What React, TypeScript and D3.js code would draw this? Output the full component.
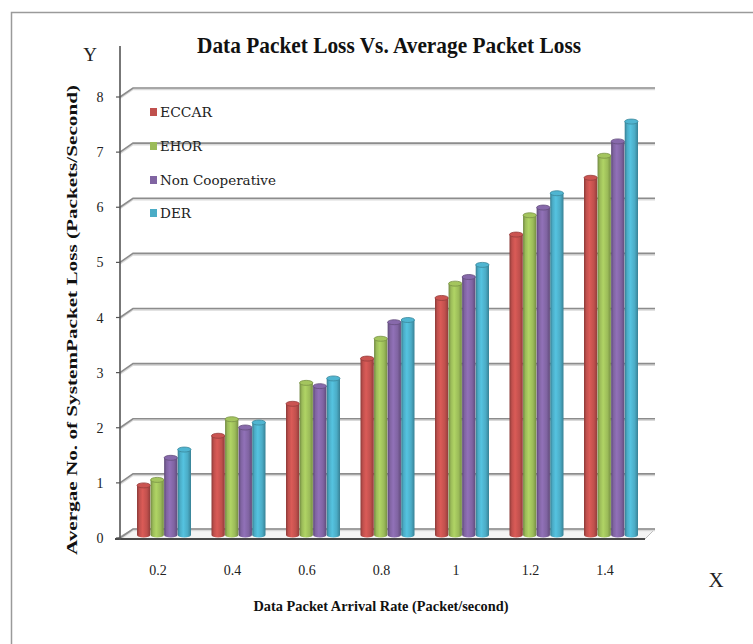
import React from "react";
import * as d3 from "d3";

// Arrival rates on the category axis
const rates = ["0.2", "0.4", "0.6", "0.8", "1", "1.2", "1.4"];
const seriesNames = ["ECCAR", "EHOR", "Non Cooperative", "DER"];
const seriesColors = ["#c0504d", "#9bbb59", "#8064a2", "#4bacc6"];

// Average packet loss per scheme
const eccar = [0.9, 1.8, 2.38, 3.2, 4.3, 5.45, 6.48];
const ehor = [1.0, 2.1, 2.76, 3.56, 4.56, 5.8, 6.88];
const nonCooperative = [1.4, 1.95, 2.7, 3.86, 4.68, 5.94, 7.14];
const der = [1.55, 2.04, 2.84, 3.9, 4.9, 6.2, 7.5];
const seriesValues = [eccar, ehor, nonCooperative, der];

const yTicks = [0, 1, 2, 3, 4, 5, 6, 7, 8];

const W = 753;
const H = 644;

// Plot frame geometry
const axisX = 120;
const depthX = 13;
const depthY = 9;
const wallRight = 655;
const barLift = 3;
const capRy = 2.5;

export default function App() {
  const y = d3.scaleLinear().domain([0, 8]).range([538, 97]);
  const xGroup = d3.scalePoint<string>().domain(rates).range([164, 611]);
  const xSeries = d3
    .scaleBand<string>()
    .domain(seriesNames)
    .range([-27, 27])
    .paddingInner(0.02);
  const bw = xSeries.bandwidth();

  return (
    <svg
      width={W}
      height={H}
      viewBox={`0 0 ${W} ${H}`}
      style={{ display: "block", position: "absolute", left: 0, top: 0 }}
    >
      <defs>
        {seriesColors.map((c, i) => {
          const base = d3.color(c)!;
          return (
            <linearGradient key={i} id={`cyl${i}`} x1="0" x2="1" y1="0" y2="0">
              <stop offset="0" stopColor={base.darker(0.9).formatHex()} />
              <stop offset="0.18" stopColor={base.formatHex()} />
              <stop offset="0.42" stopColor={base.brighter(0.35).formatHex()} />
              <stop offset="0.75" stopColor={base.formatHex()} />
              <stop offset="1" stopColor={base.darker(0.8).formatHex()} />
            </linearGradient>
          );
        })}
      </defs>

      {/* outer frame */}
      <path
        d={`M11.5,${H} L11.5,12.5 L${W},12.5`}
        fill="none"
        stroke="#9a9a9a"
        strokeWidth={1.5}
      />

      {/* title */}
      <text
        x={389}
        y={53}
        textAnchor="middle"
        fontFamily="'Liberation Serif', serif"
        fontWeight="bold"
        fontSize={23}
        textLength={384}
        lengthAdjust="spacingAndGlyphs"
        fill="#111"
      >
        Data Packet Loss Vs. Average  Packet Loss
      </text>

      {/* axis letters */}
      <text x={90} y={61} textAnchor="middle" fontFamily="'Liberation Serif', serif" fontSize={19} fill="#222">
        Y
      </text>
      <text x={716} y={587} textAnchor="middle" fontFamily="'Liberation Serif', serif" fontSize={21} fill="#222">
        X
      </text>

      {/* floor slab */}
      <path
        d={`M${axisX - 4},${y(0) + 1} L${axisX + depthX},${y(0) - depthY} L${wallRight},${y(0) - depthY} L${wallRight - depthX + 3},${y(0) + 1} Z`}
        fill="#f4f4f4"
        stroke="#bdbdbd"
        strokeWidth={1}
      />

      {/* back wall gridlines with diagonal side-wall segments */}
      {yTicks.map((t) => (
        <g key={t}>
          <path
            d={`M${axisX},${y(t) + 1.5} L${axisX + depthX},${y(t) - depthY + 1.5} L${wallRight},${y(t) - depthY + 1.5}`}
            fill="none"
            stroke="#d9d9d9"
            strokeWidth={1.5}
          />
          <path
            d={`M${axisX},${y(t)} L${axisX + depthX},${y(t) - depthY} L${wallRight},${y(t) - depthY}`}
            fill="none"
            stroke="#8c8c8c"
            strokeWidth={1.6}
          />
          <line x1={axisX - 4} x2={axisX} y1={y(t)} y2={y(t)} stroke="#555" strokeWidth={1.2} />
          <text
            x={100}
            y={y(t) + 5}
            textAnchor="middle"
            fontFamily="'Liberation Serif', serif"
            fontSize={14}
            fill="#222"
          >
            {t}
          </text>
        </g>
      ))}

      {/* front floor edge */}
      <line x1={axisX - 5} x2={wallRight - depthX + 3} y1={y(0) + 1} y2={y(0) + 1} stroke="#4a4a4a" strokeWidth={2} />

      {/* vertical axis */}
      <line x1={axisX} x2={axisX} y1={46} y2={y(0) + 2} stroke="#555" strokeWidth={1.6} />

      {/* cylinders */}
      {rates.map((r, gi) => (
        <g key={r} transform={`translate(${xGroup(r)},0)`}>
          {seriesNames.map((s, si) => {
            const v = seriesValues[si][gi];
            const x0 = xSeries(s)!;
            const cx = x0 + bw / 2;
            const rx = bw / 2;
            const yTop = y(v) - barLift;
            const yBase = y(0) - barLift;
            const base = d3.color(seriesColors[si])!;
            return (
              <g key={s}>
                <path
                  d={`M${x0},${yTop} L${x0},${yBase} A${rx},${capRy} 0 0 0 ${x0 + bw},${yBase} L${x0 + bw},${yTop} Z`}
                  fill={`url(#cyl${si})`}
                />
                <ellipse
                  cx={cx}
                  cy={yTop}
                  rx={rx}
                  ry={capRy}
                  fill={base.brighter(0.15).formatHex()}
                  stroke={base.darker(0.7).formatHex()}
                  strokeWidth={0.8}
                />
              </g>
            );
          })}
        </g>
      ))}

      {/* category labels */}
      {rates.map((r) => (
        <text
          key={r}
          x={xGroup(r)! - 6}
          y={575}
          textAnchor="middle"
          fontFamily="'Liberation Serif', serif"
          fontSize={14}
          fill="#222"
        >
          {r}
        </text>
      ))}

      {/* axis titles */}
      <text
        x={381}
        y={611}
        textAnchor="middle"
        fontFamily="'Liberation Serif', serif"
        fontWeight="bold"
        fontSize={15}
        textLength={255}
        lengthAdjust="spacingAndGlyphs"
        fill="#111"
      >
        Data Packet Arrival Rate (Packet/second)
      </text>
      <text
        transform={`translate(77,${320}) rotate(-90)`}
        textAnchor="middle"
        fontFamily="'Liberation Serif', serif"
        fontWeight="bold"
        fontSize={14}
        textLength={470}
        lengthAdjust="spacingAndGlyphs"
        fill="#111"
      >
        Avergae No. of SystemPacket Loss (Packets/Second)
      </text>

      {/* legend */}
      {seriesNames.map((s, i) => {
        const ly = [112, 146, 180, 213][i];
        return (
          <g key={s}>
            <rect x={150} y={ly - 4} width={7} height={8} fill={seriesColors[i]} />
            <text
              x={160}
              y={ly + 5}
              fontFamily="'DejaVu Serif', serif"
              fontSize={12.5}
              textLength={[52, 42, 116, 31][i]}
              lengthAdjust="spacingAndGlyphs"
              fill="#222"
            >
              {s}
            </text>
          </g>
        );
      })}
    </svg>
  );
}
